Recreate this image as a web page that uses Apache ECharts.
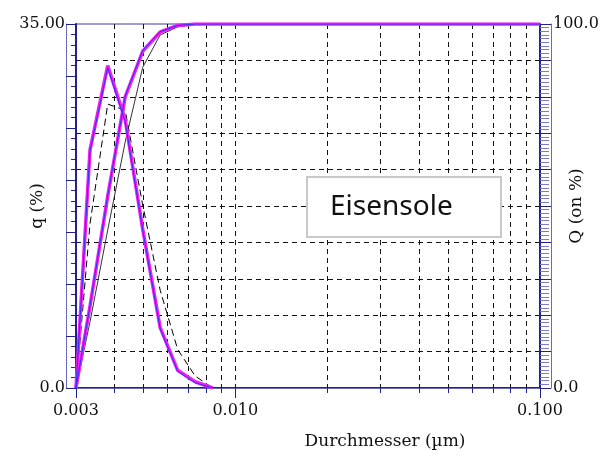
<!DOCTYPE html>
<html>
<head>
<meta charset="utf-8">
<script src="https://cdn.jsdelivr.net/npm/echarts@6/dist/echarts.min.js"></script>
<style>
  html, body { margin: 0; padding: 0; background: #fff; }
  #chart { width: 609px; height: 456px; }
</style>
</head>
<body>
<div id="chart"></div>
<script>
// Size classes (µm) shared by all curves
const diameters = [0.003, 0.003335, 0.003813, 0.004351, 0.004966, 0.005668, 0.006470, 0.007385, 0.008429, 0.1];

// Frequency distributions q (%)
const qMagenta = [0, 22.9, 31.0, 25.8, 15.3, 5.8, 1.7, 0.6, 0, null];
const qBlue    = [0, 22.8, 30.8, 25.6, 15.2, 5.7, 1.6, 0.5, 0, null];
const qBlack   = [0, 15.8, 27.3, 26.7, 17.6, 9.4, 3.7, 1.15, 0, null];

// Cumulative distributions Q (%)
const cumMagenta = [0, 22.5, 52.7, 80.0, 92.5, 97.8, 99.6, 100, 100, 100];
const cumBlue    = [0, 22.6, 52.9, 80.2, 92.7, 97.9, 99.6, 100, 100, 100];
const cumBlack   = [0, 18.2, 43.4, 67.6, 88.1, 97.0, 99.2, 99.9, 100, 100];

// Axis end labels
const qAxisLabels = { 0: '0.0', 35: '35.00' };
const cumAxisLabels = { 0: '0.0', 100: '100.0' };

const AXIS = '#202090';
const BAND = '#6a6ab8';
const SERIF = 'DejaVu Serif';

function pairs(values) {
  const out = [];
  values.forEach((v, i) => { if (v !== null) out.push([diameters[i], v]); });
  return out;
}

const chart = echarts.init(document.getElementById('chart'), null, { renderer: 'canvas' });

const dashedGrid = { show: true, lineStyle: { color: '#111', width: 1, type: [5, 4] } };

chart.setOption({
  animation: false,
  backgroundColor: '#fff',
  title: {
    text: 'Eisensole',
    left: 307,
    top: 177,
    padding: [16, 49, 16, 23],
    borderColor: '#c8c8c8',
    borderWidth: 2,
    backgroundColor: '#fff',
    textStyle: { fontFamily: 'Noto Sans', fontSize: 28, fontWeight: 'normal', color: '#111' }
  },
  grid: {
    left: 76, right: 69, top: 24, bottom: 68,
    containLabel: false,
    outerBoundsMode: 'none',
    show: true, borderColor: '#3a3aa0', borderWidth: 1, backgroundColor: 'transparent'
  },
  xAxis: [
    {
      type: 'log', logBase: 10, min: 0.003, max: 0.1,
      position: 'bottom',
      name: 'Durchmesser (µm)',
      nameLocation: 'middle',
      nameGap: 45,
      nameMoveOverlap: false,
      nameTextStyle: { fontFamily: SERIF, fontSize: 17, color: '#111', padding: [0, 0, 0, 154] },
      axisLine: { show: true, lineStyle: { color: AXIS, width: 2 } },
      axisTick: { show: true, inside: false, length: 10, lineStyle: { color: AXIS, width: 1 } },
      minorTick: { show: true, splitNumber: 9, length: 5, lineStyle: { color: AXIS, width: 1 } },
      axisLabel: {
        margin: 15, fontFamily: SERIF, fontSize: 16, color: '#111',
        formatter: v => Number(v).toFixed(3)
      },
      splitLine: Object.assign({ showMinLine: false, showMaxLine: false }, dashedGrid),
      minorSplitLine: dashedGrid
    },
    {
      type: 'log', logBase: 10, min: 0.003, max: 0.1,
      position: 'bottom', offset: 10,
      axisLine: { show: true, lineStyle: { color: BAND, width: 1 } },
      axisTick: { show: false }, axisLabel: { show: false }, splitLine: { show: false }
    }
  ],
  yAxis: [
    {
      type: 'value', min: 0, max: 35, interval: 5,
      position: 'left',
      name: 'q (%)',
      nameLocation: 'middle', nameRotate: 90, nameGap: 30,
      nameMoveOverlap: false,
      nameTextStyle: { fontFamily: SERIF, fontSize: 17, color: '#111' },
      axisLine: { show: true, lineStyle: { color: AXIS, width: 2 } },
      axisTick: { show: true, inside: false, length: 10, lineStyle: { color: AXIS, width: 1 } },
      minorTick: { show: true, splitNumber: 5, length: 5, lineStyle: { color: AXIS, width: 1 } },
      axisLabel: {
        margin: 11, fontFamily: SERIF, fontSize: 16, color: '#111',
        formatter: v => qAxisLabels[v] || ''
      },
      splitLine: { show: false }
    },
    {
      type: 'value', min: 0, max: 100, interval: 10,
      position: 'right',
      name: 'Q (on %)',
      nameLocation: 'middle', nameRotate: 90, nameGap: 28,
      nameMoveOverlap: false,
      nameTextStyle: { fontFamily: SERIF, fontSize: 17, color: '#111' },
      axisLine: { show: true, lineStyle: { color: AXIS, width: 2 } },
      axisTick: { show: true, inside: false, length: 11, lineStyle: { color: AXIS, width: 1 } },
      minorTick: { show: true, splitNumber: 10, length: 9, lineStyle: { color: '#7b7bd0', width: 1 } },
      axisLabel: {
        margin: 13, fontFamily: SERIF, fontSize: 16, color: '#111',
        formatter: v => cumAxisLabels[v] || ''
      },
      splitLine: Object.assign({ showMinLine: false, showMaxLine: false }, dashedGrid)
    },
    {
      type: 'value', min: 0, max: 35, position: 'left', offset: 10,
      axisLine: { show: true, lineStyle: { color: BAND, width: 1 } },
      axisTick: { show: false }, axisLabel: { show: false }, splitLine: { show: false }
    },
    {
      type: 'value', min: 0, max: 100, position: 'right', offset: 11,
      axisLine: { show: true, lineStyle: { color: BAND, width: 1 } },
      axisTick: { show: false }, axisLabel: { show: false }, splitLine: { show: false }
    }
  ],
  series: [
    {
      name: 'Q ref', type: 'line', yAxisIndex: 1, data: pairs(cumBlack),
      symbol: 'none', lineStyle: { color: '#333', width: 1 }
    },
    {
      name: 'q ref', type: 'line', yAxisIndex: 0, data: pairs(qBlack),
      symbol: 'none', lineStyle: { color: '#000', width: 1, type: [7, 4] }
    },
    {
      name: 'q', type: 'line', yAxisIndex: 0, data: pairs(qMagenta),
      symbol: 'none', lineStyle: { color: '#f020f0', width: 3.5 }
    },
    {
      name: 'Q', type: 'line', yAxisIndex: 1, data: pairs(cumMagenta),
      symbol: 'none', lineStyle: { color: '#f020f0', width: 3.5 }
    },
    {
      name: 'q 2', type: 'line', yAxisIndex: 0, data: pairs(qBlue),
      symbol: 'none', lineStyle: { color: '#3030ff', width: 1 }
    },
    {
      name: 'Q 2', type: 'line', yAxisIndex: 1, data: pairs(cumBlue),
      symbol: 'none', lineStyle: { color: '#3030ff', width: 1 }
    }
  ]
});
</script>
</body>
</html>
